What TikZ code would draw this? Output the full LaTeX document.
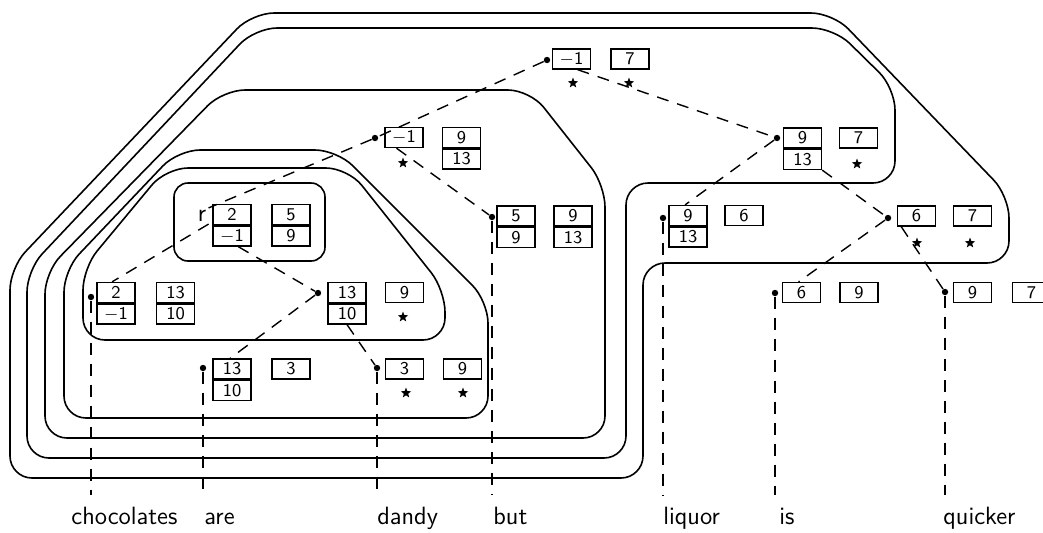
\documentclass[tikz,border=0pt]{standalone}
\usetikzlibrary{positioning,shapes.geometric}
\tikzset{
  cell/.style={draw, line width=0.7pt, minimum width=19pt, minimum height=10pt, inner sep=0pt, font=\sffamily\fontsize{9}{9}\selectfont},
  knot/.style={circle, fill, inner sep=0pt, minimum size=3.2pt},
  mark5/.style={star, star points=5, star point ratio=2.4, fill, inner sep=0pt, minimum size=5.5pt},
  link/.style={dash pattern=on 6pt off 4.5pt, line width=0.7pt},
  ring/.style={line width=0.8pt, rounded corners=11pt},
  word/.style={font=\sffamily\fontsize{12.5}{12.5}\selectfont, anchor=base west, inner sep=0pt},
}
\begin{document}
\begin{tikzpicture}[x=0.5pt, y=-0.5pt]
\useasboundingbox (0,0) rectangle (1043,532);
\clip (0,0) rectangle (1043,532);
\coordinate (bot) at (0,495);
% Contours, outermost first
\draw[ring] (500,13) -- (833,13) -- (1009,196) -- (1009,263) -- (643,263) -- (643,478) -- (10,478) -- (10,268) -- (252,13) -- cycle;
\draw[ring] (500,28) -- (834,28) -- (895,88) -- (895,183) -- (626,183) -- (626,458) -- (27,458) -- (27,270) -- (255,28) -- cycle;
\draw[ring] (400,90) -- (530,90) -- (605,185) -- (605,438) -- (45,438) -- (45,272) -- (223,90) -- cycle;
\draw[ring] (260,150) -- (337,150) -- (488,301) -- (488,418) -- (64,418) -- (64,270) -- (178,150) -- cycle;
\draw[ring] (260,168) -- (348,168) -- (445,290) -- (445,340) -- (83,340) -- (83,268) -- (166,168) -- cycle;
\draw[line width=0.8pt, rounded corners=7pt] (174,183) rectangle (325,261);
% Top
\node[knot] (Tp) at (547,60) {};
\node[cell] (Ta) at (571.5,59) {$-$1};
\node[cell] (Tb) at (630,59) {7};
% Left branch
\node[knot] (N2p) at (375,138) {};
\node[cell] (N2a) at (404,137.5) {$-$1};
\node[cell] (N2b) at (461.5,137.5) {9};
\node[cell, below=0pt of N2b] (N2c) {13};
\node[knot] (N3p) at (492,217) {};
\node[cell] (N3a) at (516,216) {5};
\node[cell, below=0pt of N3a] (N3b) {9};
\node[cell] (N3c) at (573,216) {9};
\node[cell, below=0pt of N3c] (N3d) {13};
% Root box
\node[word, anchor=center, inner sep=1pt] (root) at (202,216) {r};
\node[cell] (N9a) at (232,214.5) {2};
\node[cell, below=0pt of N9a] (N9b) {$-$1};
\node[cell] (N9c) at (291,214.5) {5};
\node[cell, below=0pt of N9c] (N9d) {9};
\node[knot] (N10p) at (91,297) {};
\node[cell] (N10a) at (116,292.5) {2};
\node[cell, below=0pt of N10a] (N10b) {$-$1};
\node[cell] (N10c) at (175.5,292.5) {13};
\node[cell, below=0pt of N10c] (N10d) {10};
\node[knot] (N11p) at (318,293) {};
\node[cell] (N11a) at (347,292.5) {13};
\node[cell, below=0pt of N11a] (N11b) {10};
\node[cell] (N11c) at (404.5,292.5) {9};
\node[knot] (N12p) at (203,368) {};
\node[cell] (N12a) at (232,369) {13};
\node[cell, below=0pt of N12a] (N12b) {10};
\node[cell] (N12c) at (291,369) {3};
\node[knot] (N13p) at (377,368) {};
\node[cell] (N13a) at (404.5,369) {3};
\node[cell] (N13c) at (462.5,369) {9};
% Right branch
\node[knot] (N4p) at (777,138) {};
\node[cell] (N4a) at (802.5,138) {9};
\node[cell, below=0pt of N4a] (N4b) {13};
\node[cell] (N4c) at (858.5,138) {7};
\node[knot] (N5p) at (663,218) {};
\node[cell] (N5a) at (688,215.5) {9};
\node[cell, below=0pt of N5a] (N5b) {13};
\node[cell] (N5c) at (744,215.5) {6};
\node[knot] (N6p) at (888,218) {};
\node[cell] (N6a) at (916.5,216) {6};
\node[cell] (N6c) at (972.5,216) {7};
\node[knot] (N7p) at (775,293) {};
\node[cell] (N7a) at (801.5,292.5) {6};
\node[cell] (N7c) at (859,292.5) {9};
\node[knot] (N8p) at (945,292) {};
\node[cell] (N8a) at (972.5,292.5) {9};
\node[cell] (N8c) at (1031.5,292.5) {7};
% Stars
\foreach \i/\x/\y in {1/573/83, 2/629/83, 3/403/163, 4/857/164, 5/917/243, 6/970/243, 7/403/317, 8/406/393, 9/463/393}
  \node[mark5] (s\i) at (\x,\y) {};
% Tree links
\draw[link] (Tp) -- (N2p);
\draw[link] (Ta.-60) -- (N4p);
\draw[link] (N2p) -- (root.north east);
\draw[link] (N2a.-125) -- (N3p);
\draw[link] (root.south east) -- (N10a.110);
\draw[link] (N9b.-60) -- (N11p);
\draw[link] (N11p) -- (N12a.100);
\draw[link] (N11b.south) -- (N13p);
\draw[link] (N4p) -- (N5a.105);
\draw[link] (N4b.south east) -- (N6p);
\draw[link] (N6p) -- (N7a.105);
\draw[link] (N6a.-145) -- (N8p);
% Words
\foreach \p/\w/\x in {N10p/chocolates/71, N12p/are/204, N13p/dandy/377, N3p/but/493, N5p/liquor/663, N7p/is/779, N8p/quicker/943} {
  \draw[link] (\p) -- (\p |- bot);
  \node[word] (w-\w) at (\x,524) {\w};
}
\end{tikzpicture}
\end{document}
